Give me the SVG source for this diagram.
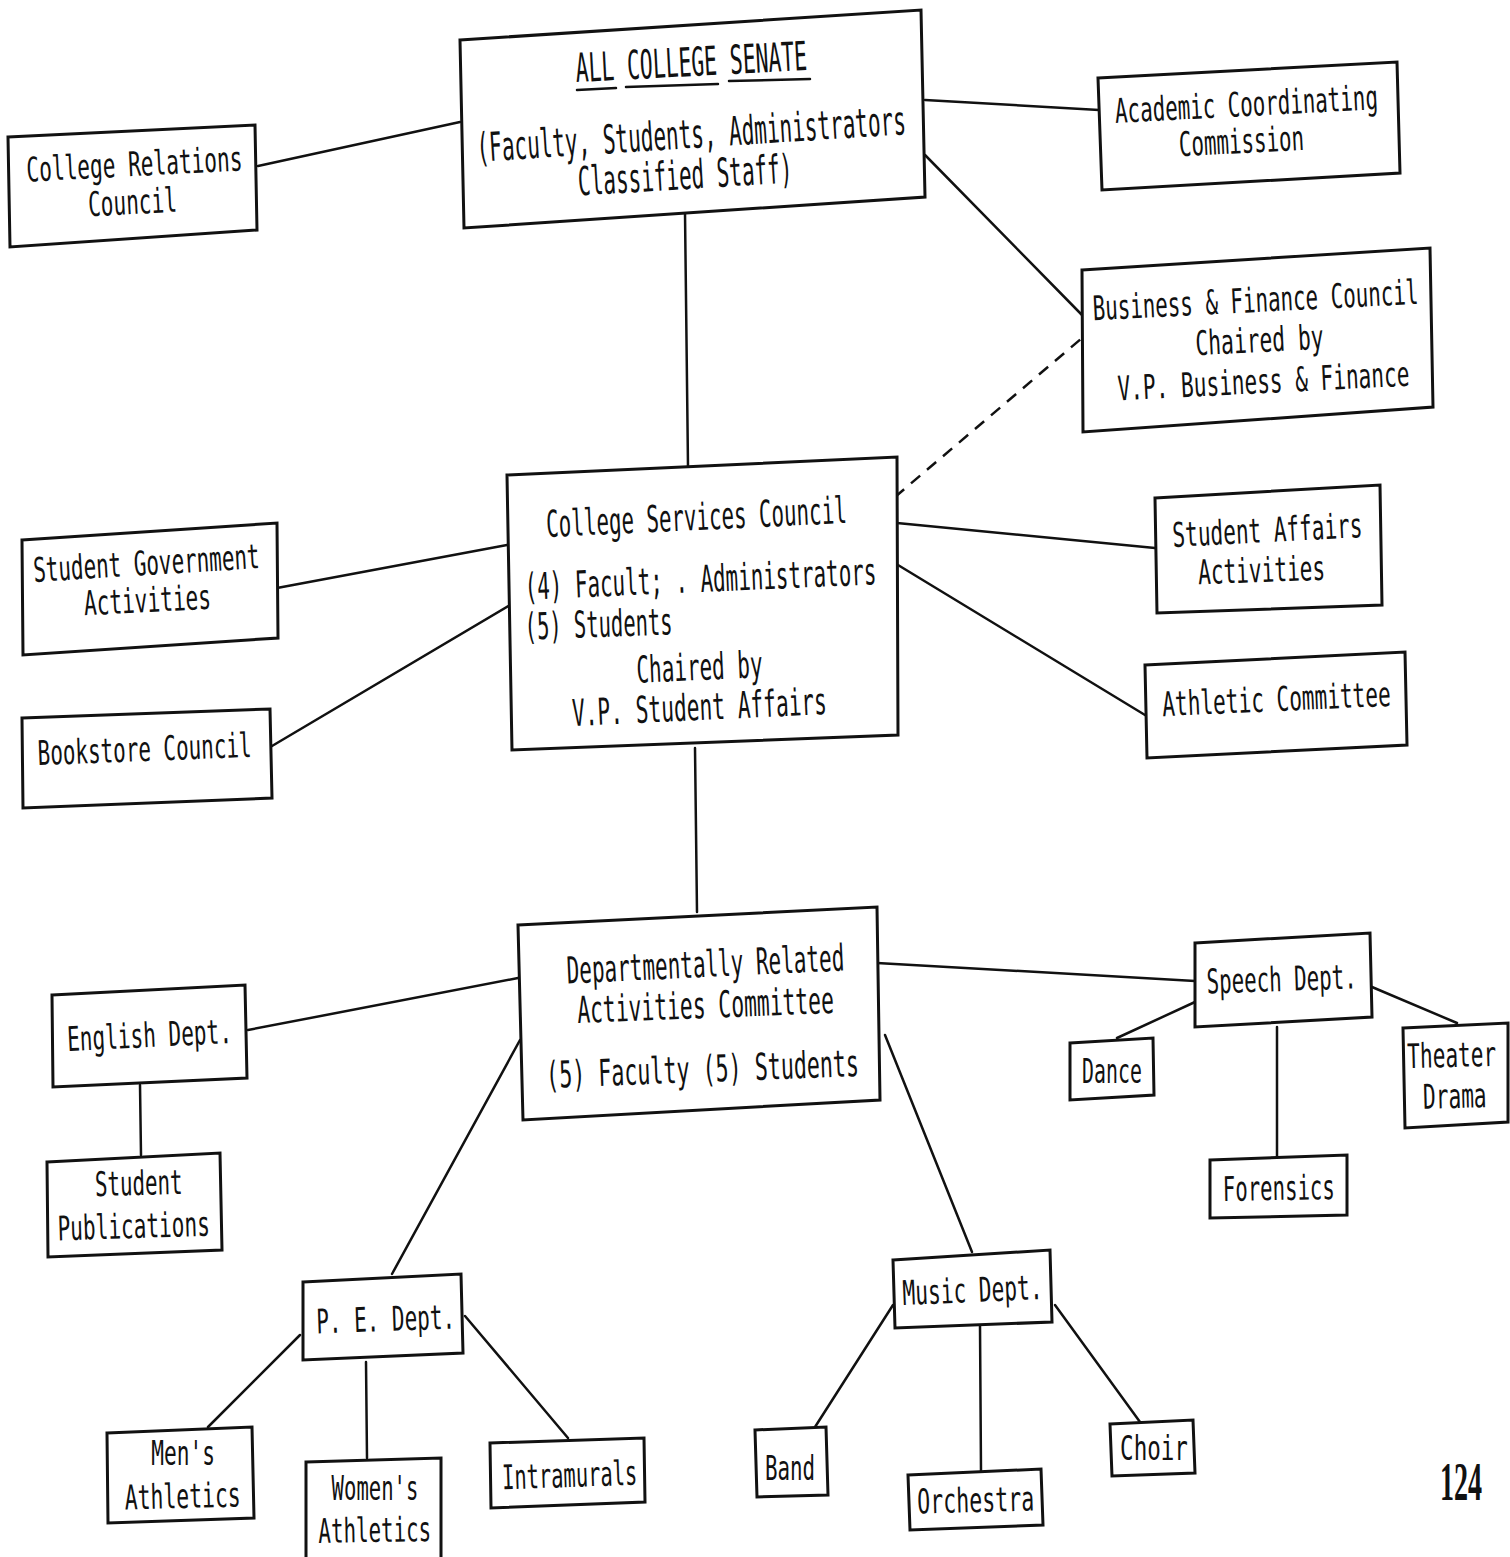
<svg xmlns="http://www.w3.org/2000/svg" width="1510" height="1557" viewBox="0 0 1510 1557">
<style>
.b{fill:#fff;stroke:#111;stroke-width:3;stroke-linejoin:miter}
.c{fill:none;stroke:#111;stroke-width:2.5;stroke-linecap:round}
.d{fill:none;stroke:#111;stroke-width:2.5;stroke-dasharray:12 9}
text{font-family:"DejaVu Sans Mono","Liberation Mono",monospace;fill:#111;text-anchor:middle;font-size:34px}
.l{font-size:40px}
.m{font-size:37px}
.pg{font-family:"Liberation Serif",serif;font-size:54px;font-weight:bold;text-anchor:start}
</style>
<rect width="1510" height="1557" fill="#fff"/>
<g id="connectors">
<line class="c" x1="460" y1="122" x2="258" y2="166"/>
<line class="c" x1="925" y1="100" x2="1099" y2="110"/>
<line class="c" x1="925" y1="155" x2="1082" y2="315"/>
<line class="c" x1="685" y1="213" x2="688" y2="467"/>
<line class="d" x1="895" y1="497" x2="1082" y2="338"/>
<line class="c" x1="507" y1="545" x2="277" y2="588"/>
<line class="c" x1="510" y1="605" x2="272" y2="746"/>
<line class="c" x1="897" y1="523" x2="1155" y2="548"/>
<line class="c" x1="898" y1="565" x2="1145" y2="715"/>
<line class="c" x1="695" y1="748" x2="697" y2="912"/>
<line class="c" x1="518" y1="978" x2="248" y2="1030"/>
<line class="c" x1="520" y1="1040" x2="392" y2="1274"/>
<line class="c" x1="877" y1="963" x2="1195" y2="981"/>
<line class="c" x1="885" y1="1035" x2="972" y2="1252"/>
<line class="c" x1="140" y1="1085" x2="141" y2="1155"/>
<line class="c" x1="1195" y1="1002" x2="1117" y2="1038"/>
<line class="c" x1="1372" y1="987" x2="1457" y2="1023"/>
<line class="c" x1="1277" y1="1027" x2="1277" y2="1157"/>
<line class="c" x1="300" y1="1335" x2="208" y2="1427"/>
<line class="c" x1="366" y1="1362" x2="367" y2="1458"/>
<line class="c" x1="465" y1="1316" x2="568" y2="1438"/>
<line class="c" x1="893" y1="1305" x2="815" y2="1427"/>
<line class="c" x1="980" y1="1326" x2="981" y2="1472"/>
<line class="c" x1="1055" y1="1305" x2="1140" y2="1422"/>
</g>
<g id="senate">
<polygon class="b" points="460,40 921,10 925,197 464,228"/>
<text class="l" textLength="433" lengthAdjust="spacingAndGlyphs" transform="translate(692 76) rotate(-3) scale(0.535 1)">ALL COLLEGE SENATE</text>
<line class="c" x1="577" y1="90" x2="616" y2="88"/>
<line class="c" x1="626" y1="87" x2="718" y2="84"/>
<line class="c" x1="729" y1="81" x2="810" y2="79"/>
<text class="l" textLength="819" lengthAdjust="spacingAndGlyphs" transform="translate(692 148) rotate(-3.7) scale(0.525 1)">(Faculty, Students, Administrators</text>
<text class="l" textLength="409" lengthAdjust="spacingAndGlyphs" transform="translate(686 189) rotate(-3.5) scale(0.525 1)">Classified Staff)</text>
</g>
<g id="college-relations">
<polygon class="b" points="8,137 255,125 257,230 10,247"/>
<text textLength="348" lengthAdjust="spacingAndGlyphs" transform="translate(135 176) rotate(-3) scale(0.621 1)">College Relations</text>
<text textLength="143" lengthAdjust="spacingAndGlyphs" transform="translate(133 214) rotate(-3) scale(0.621 1)">Council</text>
</g>
<g id="academic">
<polygon class="b" points="1098,78 1397,62 1400,173 1102,190"/>
<text textLength="430" lengthAdjust="spacingAndGlyphs" transform="translate(1247 116) rotate(-3) scale(0.612 1)">Academic Coordinating</text>
<text textLength="205" lengthAdjust="spacingAndGlyphs" transform="translate(1242 153) rotate(-3) scale(0.611 1)">Commission</text>
</g>
<g id="business">
<polygon class="b" points="1082,270 1430,248 1433,407 1083,432"/>
<text textLength="532" lengthAdjust="spacingAndGlyphs" transform="translate(1256 312) rotate(-2.9) scale(0.613 1)">Business &amp; Finance Council</text>
<text textLength="205" lengthAdjust="spacingAndGlyphs" transform="translate(1260 352) rotate(-2.9) scale(0.625 1)">Chaired by</text>
<text textLength="471" lengthAdjust="spacingAndGlyphs" transform="translate(1264 393) rotate(-2.9) scale(0.62 1)">V.P. Business &amp; Finance</text>
</g>
<g id="college-services">
<polygon class="b" points="507,475 897,457 898,735 512,750"/>
<text class="m" textLength="534" lengthAdjust="spacingAndGlyphs" transform="translate(697 530) rotate(-2.7) scale(0.563 1)">College Services Council</text>
<text class="m" textLength="646" lengthAdjust="spacingAndGlyphs" transform="translate(701 592) rotate(-2.5) scale(0.545 1)">(4) Facult;  . Administrators</text>
<text class="m" textLength="267" lengthAdjust="spacingAndGlyphs" transform="translate(599 637) rotate(-2) scale(0.554 1)">(5) Students</text>
<text class="m" textLength="223" lengthAdjust="spacingAndGlyphs" transform="translate(700 680) rotate(-2.5) scale(0.566 1)">Chaired by</text>
<text class="m" textLength="445" lengthAdjust="spacingAndGlyphs" transform="translate(700 720) rotate(-2.7) scale(0.573 1)">V.P. Student Affairs</text>
</g>
<g id="student-government">
<polygon class="b" points="22,540 277,523 278,638 23,655"/>
<text textLength="368" lengthAdjust="spacingAndGlyphs" transform="translate(147 575) rotate(-3.5) scale(0.616 1)">Student Government</text>
<text textLength="205" lengthAdjust="spacingAndGlyphs" transform="translate(148 612) rotate(-3) scale(0.62 1)">Activities</text>
</g>
<g id="bookstore">
<polygon class="b" points="22,718 270,709 272,798 23,808"/>
<text textLength="348" lengthAdjust="spacingAndGlyphs" transform="translate(145 761) rotate(-2.2) scale(0.615 1)">Bookstore Council</text>
</g>
<g id="student-affairs">
<polygon class="b" points="1155,498 1380,485 1382,605 1157,613"/>
<text textLength="307" lengthAdjust="spacingAndGlyphs" transform="translate(1268 542) rotate(-3) scale(0.619 1)">Student Affairs</text>
<text textLength="205" lengthAdjust="spacingAndGlyphs" transform="translate(1262 582) rotate(-2) scale(0.62 1)">Activities</text>
</g>
<g id="athletic-committee">
<polygon class="b" points="1145,665 1405,652 1407,745 1147,758"/>
<text textLength="368" lengthAdjust="spacingAndGlyphs" transform="translate(1277 711) rotate(-2.6) scale(0.621 1)">Athletic Committee</text>
</g>
<g id="departmental">
<polygon class="b" points="518,925 877,907 880,1100 523,1120"/>
<text class="m" textLength="490" lengthAdjust="spacingAndGlyphs" transform="translate(706 977) rotate(-2.7) scale(0.567 1)">Departmentally Related</text>
<text class="m" textLength="445" lengthAdjust="spacingAndGlyphs" transform="translate(706 1018) rotate(-2.2) scale(0.577 1)">Activities Committee</text>
<text class="m" textLength="557" lengthAdjust="spacingAndGlyphs" transform="translate(703 1082) rotate(-2.2) scale(0.562 1)">(5) Faculty  (5) Students</text>
</g>
<g id="english">
<polygon class="b" points="52,995 245,985 247,1078 53,1087"/>
<text textLength="266" lengthAdjust="spacingAndGlyphs" transform="translate(150 1047) rotate(-2.8) scale(0.62 1)">English Dept.</text>
</g>
<g id="student-publications">
<polygon class="b" points="47,1162 220,1153 222,1250 48,1257"/>
<text textLength="143" lengthAdjust="spacingAndGlyphs" transform="translate(139 1195) rotate(-1.5) scale(0.614 1)">Student</text>
<text textLength="246" lengthAdjust="spacingAndGlyphs" transform="translate(134 1238) rotate(-1.8) scale(0.619 1)">Publications</text>
</g>
<g id="speech">
<polygon class="b" points="1195,943 1370,933 1372,1017 1195,1027"/>
<text textLength="246" lengthAdjust="spacingAndGlyphs" transform="translate(1282 991) rotate(-2) scale(0.611 1)">Speech Dept.</text>
</g>
<g id="dance">
<polygon class="b" points="1070,1043 1153,1038 1154,1095 1070,1100"/>
<text textLength="102" lengthAdjust="spacingAndGlyphs" transform="translate(1112 1083) scale(0.586 1)">Dance</text>
</g>
<g id="theater">
<polygon class="b" points="1403,1028 1508,1023 1508,1122 1405,1128"/>
<text textLength="143" lengthAdjust="spacingAndGlyphs" transform="translate(1452 1067) rotate(-1.5) scale(0.621 1)">Theater</text>
<text textLength="102" lengthAdjust="spacingAndGlyphs" transform="translate(1455 1108) rotate(-1.5) scale(0.625 1)">Drama</text>
</g>
<g id="forensics">
<polygon class="b" points="1210,1160 1347,1155 1347,1215 1210,1218"/>
<text textLength="184" lengthAdjust="spacingAndGlyphs" transform="translate(1279 1200) rotate(-1) scale(0.608 1)">Forensics</text>
</g>
<g id="pe">
<polygon class="b" points="303,1282 461,1274 463,1353 303,1360"/>
<text textLength="225" lengthAdjust="spacingAndGlyphs" transform="translate(386 1331) rotate(-2) scale(0.617 1)">P. E. Dept.</text>
</g>
<g id="mens-athletics">
<polygon class="b" points="107,1433 252,1427 254,1518 108,1523"/>
<text textLength="102" lengthAdjust="spacingAndGlyphs" transform="translate(183 1465) scale(0.625 1)">Men's</text>
<text textLength="184" lengthAdjust="spacingAndGlyphs" transform="translate(183 1508) rotate(-1.5) scale(0.63 1)">Athletics</text>
</g>
<g id="womens-athletics">
<polygon class="b" points="306,1462 441,1458 441,1562 306,1562"/>
<text textLength="143" lengthAdjust="spacingAndGlyphs" transform="translate(375 1500) scale(0.607 1)">Women's</text>
<text textLength="184" lengthAdjust="spacingAndGlyphs" transform="translate(375 1542) rotate(-1) scale(0.613 1)">Athletics</text>
</g>
<g id="intramurals">
<polygon class="b" points="490,1443 644,1438 645,1502 491,1508"/>
<text textLength="225" lengthAdjust="spacingAndGlyphs" transform="translate(570 1487) rotate(-2) scale(0.6 1)">Intramurals</text>
</g>
<g id="music">
<polygon class="b" points="893,1260 1050,1250 1052,1322 895,1328"/>
<text textLength="225" lengthAdjust="spacingAndGlyphs" transform="translate(973 1302) rotate(-2.5) scale(0.622 1)">Music Dept.</text>
</g>
<g id="band">
<polygon class="b" points="755,1430 826,1427 828,1495 757,1497"/>
<text textLength="82" lengthAdjust="spacingAndGlyphs" transform="translate(790 1480) scale(0.611 1)">Band</text>
</g>
<g id="orchestra">
<polygon class="b" points="908,1475 1041,1469 1043,1525 910,1530"/>
<text textLength="184" lengthAdjust="spacingAndGlyphs" transform="translate(976 1512) rotate(-1.5) scale(0.635 1)">Orchestra</text>
</g>
<g id="choir">
<polygon class="b" points="1110,1424 1193,1420 1195,1473 1112,1476"/>
<text textLength="102" lengthAdjust="spacingAndGlyphs" transform="translate(1154 1460) scale(0.665 1)">Choir</text>
</g>
<text class="pg" textLength="81" lengthAdjust="spacingAndGlyphs" transform="translate(1440 1500) scale(0.52 1)">124</text>
</svg>
